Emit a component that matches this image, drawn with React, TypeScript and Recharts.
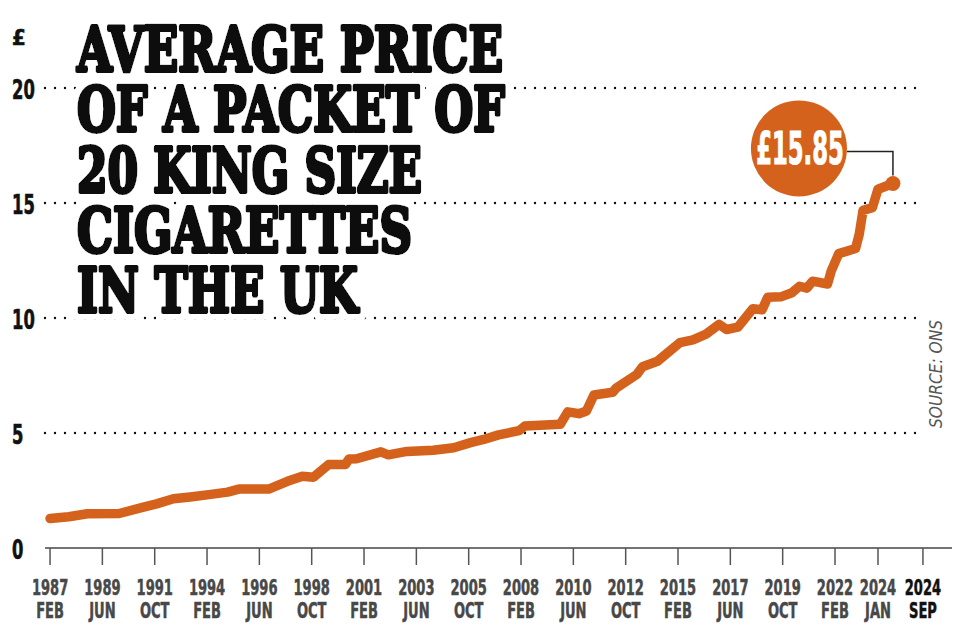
import { Line, LineChart, ReferenceDot, ReferenceLine, XAxis, YAxis } from "recharts";

// months counted from Feb 1987 (0) to Sep 2024 (451)
const MONTHS = [
  0, 10, 20, 37, 50, 57, 66, 75, 86, 95, 101, 117, 127, 135, 141, 149, 158, 160,
  164, 177, 181, 191, 205, 216, 225, 232, 240, 251, 254, 273, 277, 283, 287, 291,
  301, 303, 314, 317, 325, 337, 344, 351, 358, 362, 368, 376, 381, 384, 391, 397,
  401, 405, 408, 416, 418, 422, 431, 433, 435, 440, 443, 451,
];
const PRICES = [
  1.28, 1.36, 1.49, 1.5, 1.78, 1.92, 2.14, 2.22, 2.33, 2.43, 2.56, 2.56, 2.9, 3.12,
  3.08, 3.63, 3.63, 3.87, 3.88, 4.18, 4.05, 4.2, 4.25, 4.36, 4.58, 4.72, 4.92, 5.1,
  5.3, 5.38, 5.92, 5.84, 5.96, 6.65, 6.77, 6.96, 7.55, 7.88, 8.12, 8.93, 9.05, 9.3,
  9.72, 9.5, 9.6, 10.4, 10.36, 10.9, 10.92, 11.1, 11.38, 11.3, 11.6, 11.48, 12.05,
  12.8, 13.02, 13.65, 14.68, 14.8, 15.6, 15.85,
];

const TICK_MONTHS = [0, 28, 56, 84, 112, 140, 168, 196, 224, 252, 280, 308, 336, 364, 392, 420, 443, 451];
const TICK_YEARS = ["1987", "1989", "1991", "1994", "1996", "1998", "2001", "2003", "2005", "2008", "2010", "2012", "2015", "2017", "2019", "2022", "2024", "2024"];
const TICK_MON = ["FEB", "JUN", "OCT", "FEB", "JUN", "OCT", "FEB", "JUN", "OCT", "FEB", "JUN", "OCT", "FEB", "JUN", "OCT", "FEB", "JAN", "SEP"];

const Y_TICKS = [0, 5, 10, 15, 20];
const GRID_LEVELS = [5, 10, 15, 20];

const TITLE_LINES = ["AVERAGE PRICE", "OF A PACKET OF", "20 KING SIZE", "CIGARETTES", "IN THE UK"];
const TITLE_WIDTHS = [426, 428, 345, 335, 281];

const ORANGE = "#D4621C";
const COND = "'DejaVu Sans Condensed', 'DejaVu Sans', sans-serif";
const X_MIN = -2.7;
const X_MAX = 482.6;
const GRID_END = 466.5;

const data = MONTHS.map((m, i) => ({ m, price: PRICES[i] }));
const last = data[data.length - 1];

function MonthTick({ x, y, payload }: any) {
  const i = TICK_MONTHS.indexOf(payload.value);
  const isLast = i === TICK_MONTHS.length - 1;
  // last label is pushed clear of the JAN one, as in the print graphic
  const dx = isLast ? 30 : 0;
  const color = isLast ? "#111" : "#484848";
  return (
    <g transform={`translate(${x + dx},${y})`}>
      <line x1={0} y1={0} x2={0} y2={17} stroke="#555" strokeWidth={1.5} />
      <text transform="translate(0,47) scale(0.66,1)" textAnchor="middle" fontFamily={COND} fontWeight="bold" fontSize={22} fill={color} stroke={color} strokeWidth={0.5}>
        {TICK_YEARS[i]}
      </text>
      <text transform="translate(0,70) scale(0.66,1)" textAnchor="middle" fontFamily={COND} fontWeight="bold" fontSize={22} fill={color} stroke={color} strokeWidth={0.5}>
        {TICK_MON[i]}
      </text>
    </g>
  );
}

function PriceTick({ y, payload }: any) {
  return (
    <text transform={`translate(12,${y + 11}) scale(0.7,1)`} fontFamily={COND} fontWeight="bold" fontSize={26} fill="#111" stroke="#111" strokeWidth={0.6}>
      {payload.value}
    </text>
  );
}

function EndMarker({ cx, cy }: any) {
  const bx = cx - 94;
  const by = cy - 35;
  return (
    <g>
      <polyline points={`${bx + 48},${by + 3} ${cx},${by + 3} ${cx},${cy - 8}`} fill="none" stroke="#222" strokeWidth={1.5} />
      <circle cx={bx} cy={by} r={48} fill={ORANGE} />
      <text transform={`translate(${bx + 1},${by + 16}) scale(0.56,1)`} textAnchor="middle" fontFamily={COND} fontWeight="bold" fontSize={45} fill="#fff" stroke="#fff" strokeWidth={1}>
        £15.85
      </text>
      <circle cx={cx} cy={cy} r={7.5} fill={ORANGE} />
    </g>
  );
}

export default function App() {
  return (
    <div style={{ position: "absolute", left: 0, top: 0, width: 960, height: 640, background: "#fff" }}>
      <LineChart width={960} height={640} data={data} margin={{ top: 88, right: 8, bottom: 0, left: 0 }}>
        <XAxis
          dataKey="m"
          type="number"
          domain={[X_MIN, X_MAX]}
          ticks={TICK_MONTHS}
          interval={0}
          height={92}
          tickLine={false}
          tickSize={0}
          tickMargin={0}
          axisLine={{ stroke: "#444", strokeWidth: 1.5 }}
          tick={<MonthTick />}
        />
        <YAxis
          type="number"
          domain={[0, 20]}
          ticks={Y_TICKS}
          width={45}
          axisLine={false}
          tickLine={false}
          tick={<PriceTick />}
        />
        {GRID_LEVELS.map((v) => (
          <ReferenceLine
            key={v}
            segment={[{ x: X_MIN, y: v }, { x: GRID_END, y: v }]}
            stroke="#111"
            strokeWidth={2.4}
            strokeDasharray="0 10"
            strokeLinecap="round"
            ifOverflow="visible"
          />
        ))}
        <Line
          dataKey="price"
          type="linear"
          stroke={ORANGE}
          strokeWidth={9.5}
          strokeLinejoin="round"
          strokeLinecap="round"
          dot={false}
          activeDot={false}
          isAnimationActive={false}
        />
        <ReferenceDot x={last.m} y={last.price} ifOverflow="visible" shape={<EndMarker />} />
      </LineChart>
      <svg width={960} height={640} style={{ position: "absolute", left: 0, top: 0, pointerEvents: "none" }}>
        <defs>
          {/* white halo behind the headline so the dotted grid stops short of it */}
          <filter id="knockout" x="-5%" y="-20%" width="110%" height="140%">
            <feMorphology in="SourceAlpha" operator="dilate" radius="5" result="grown" />
            <feFlood floodColor="#fff" />
            <feComposite in2="grown" operator="in" result="halo" />
            <feMerge>
              <feMergeNode in="halo" />
              <feMergeNode in="SourceGraphic" />
            </feMerge>
          </filter>
        </defs>
        <text x={12} y={45} fontFamily={COND} fontWeight="bold" fontSize={22} fill="#111" stroke="#111" strokeWidth={0.6}>£</text>
        {TITLE_LINES.map((t, i) => (
          <text
            key={t}
            x={77}
            y={71 + i * 60.3}
            fontFamily="'DejaVu Serif', serif"
            fontWeight="bold"
            fontSize={62}
            textLength={TITLE_WIDTHS[i]}
            lengthAdjust="spacingAndGlyphs"
            fill="#111"
            stroke="#111"
            strokeWidth={4.2}
            strokeLinejoin="round"
            filter="url(#knockout)"
          >
            {t}
          </text>
        ))}
        <text transform="translate(942,374) rotate(-90)" textAnchor="middle" fontFamily={COND} fontStyle="italic" fontSize={18} fill="#555" textLength={108} lengthAdjust="spacingAndGlyphs">
          SOURCE: ONS
        </text>
      </svg>
    </div>
  );
}
